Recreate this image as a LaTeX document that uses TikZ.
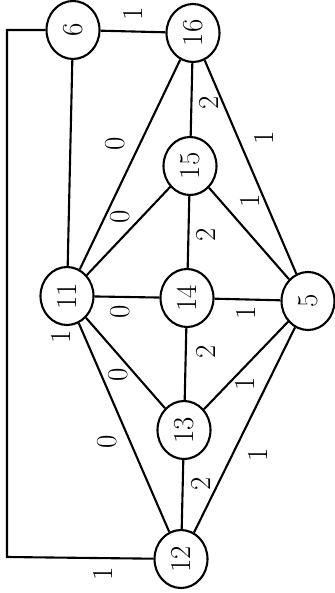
\documentclass[tikz,border=0pt]{standalone}
\usepackage{tikz}
\usetikzlibrary{shapes.geometric}

\begin{document}
\begin{tikzpicture}
[x=1pt,y=-1pt,line width=2.1pt,
vert/.style={draw,ellipse,rotate=90,inner sep=0pt,minimum width=58pt,minimum height=53pt,font=\fontsize{29}{29}\selectfont},
wt/.style={rotate=90,inner sep=0pt,font=\fontsize{29}{29}\selectfont}]
\useasboundingbox (0,0) rectangle (334,593);
\node[vert](n6) at (73,30){6};
\node[vert](n16) at (193,33){16};
\node[vert](n15) at (190,166){15};
\node[vert](n11) at (67,296){11};
\node[wt](w11) at (61,337){1};
\node[vert](n14) at (187,298){14};
\node[vert](n5) at (308,301){5};
\node[vert](n13) at (184,430){13};
\node[vert](n12) at (181,559){12};
\coordinate (tl) at (7,30); \coordinate (bl) at (7,557);
\path (n6) edge node[shift={(0,-18)},wt]{1} (n16);
\path (n6) edge (n11);
\path (n16) edge node[shift={(-15,-21)},wt]{0} (n11);
\path (n16) edge node[shift={(17,3)},wt]{2} (n15);
\path (n16) edge node[shift={(13,-29)},wt]{1} (n5);
\path (n15) edge node[shift={(-8,-14)},wt]{0} (n11);
\path (n15) edge node[shift={(1,-33)},wt]{1} (n5);
\path (n15) edge node[shift={(17,3)},wt]{2} (n14);
\path (n11) edge node[shift={(-7,15)},wt]{0} (n14);
\path (n14) edge node[shift={(-2,13)},wt]{1} (n5);
\path (n11) edge node[shift={(-7,12)},wt]{0} (n13);
\path (n11) edge node[shift={(-17,14)},wt]{0} (n12);
\path (n14) edge node[shift={(20,-12)},wt]{2} (n13);
\path (n13) edge node[shift={(-1,18)},wt]{1} (n5);
\path (n13) edge node[shift={(18,-11)},wt]{2} (n12);
\path (n12) edge node[shift={(13,25)},wt]{1} (n5);
\draw (n6) -- (tl) -- (bl) -- node[shift={(23,16)},wt]{1} (n12);
\end{tikzpicture}
\end{document}
